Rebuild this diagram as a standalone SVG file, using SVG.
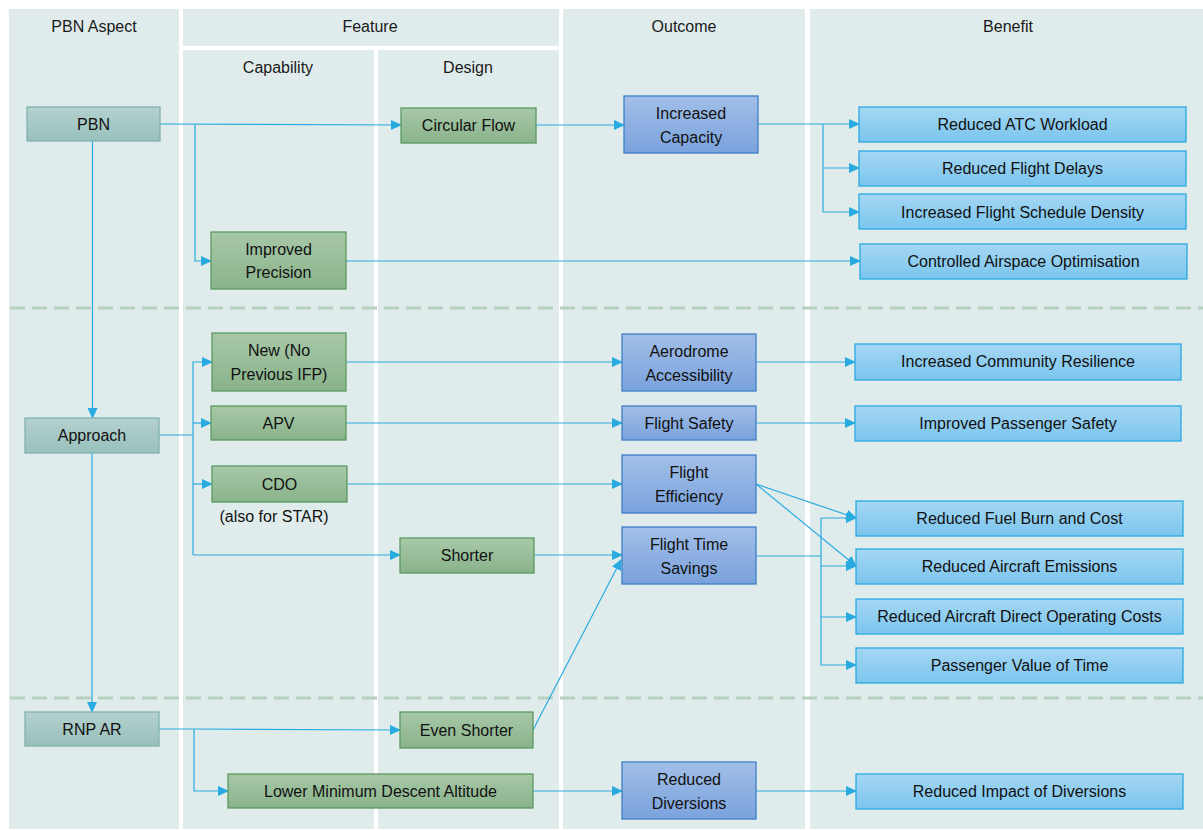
<svg xmlns="http://www.w3.org/2000/svg" width="1203" height="830" viewBox="0 0 1203 830">
<defs>
<linearGradient id="gTeal" x1="0" y1="0" x2="0" y2="1"><stop offset="0" stop-color="#B4D1CE"/><stop offset="1" stop-color="#98C0BC"/></linearGradient>
<linearGradient id="gGreen" x1="0" y1="0" x2="0" y2="1"><stop offset="0" stop-color="#A8C8A8"/><stop offset="1" stop-color="#89B38A"/></linearGradient>
<linearGradient id="gBlue" x1="0" y1="0" x2="0" y2="1"><stop offset="0" stop-color="#A2BFE8"/><stop offset="1" stop-color="#7AA2DC"/></linearGradient>
<linearGradient id="gSky" x1="0" y1="0" x2="0" y2="1"><stop offset="0" stop-color="#A5D7F3"/><stop offset="1" stop-color="#7BC5EE"/></linearGradient>
<marker id="arr" markerUnits="userSpaceOnUse" markerWidth="11" markerHeight="10" refX="10" refY="5" orient="auto"><path d="M0,0 L11,5 L0,10 z" fill="#29ABE2"/></marker>
<style>
.panel{fill:#E0ECEB}
.dash{stroke:#B6CFBF;stroke-width:3;stroke-dasharray:15 7;fill:none}
.hdr{font-family:"Liberation Sans",Arial,sans-serif;font-size:16px;fill:#1a1a1a;text-anchor:middle}
.lbl{font-family:"Liberation Sans",Arial,sans-serif;font-size:16px;fill:#111;text-anchor:middle}
.teal{fill:url(#gTeal);stroke:#80B2AD;stroke-width:1.3}
.green{fill:url(#gGreen);stroke:#5A9A62;stroke-width:1.3}
.blue{fill:url(#gBlue);stroke:#3E7FC6;stroke-width:1.3}
.sky{fill:url(#gSky);stroke:#2AAAE2;stroke-width:1.3}
.c{fill:none;stroke:#29ABE2;stroke-width:1.2}
.a{marker-end:url(#arr)}
</style>
</defs>
<rect width="1203" height="830" fill="#FFFFFF"/>
<g id="panels">
<rect class="panel" x="9" y="9" width="170" height="820"/>
<rect class="panel" x="183" y="9" width="376" height="37"/>
<rect class="panel" x="183" y="50" width="191" height="779"/>
<rect class="panel" x="378" y="50" width="181" height="779"/>
<rect class="panel" x="563" y="9" width="242" height="820"/>
<rect class="panel" x="810" y="9" width="393" height="820"/>
<line class="dash" x1="10" y1="308" x2="1203" y2="308"/>
<line class="dash" x1="10" y1="698" x2="1203" y2="698"/>
<text class="hdr" x="94" y="32">PBN Aspect</text>
<text class="hdr" x="370" y="32">Feature</text>
<text class="hdr" x="278" y="73">Capability</text>
<text class="hdr" x="468" y="73">Design</text>
<text class="hdr" x="684" y="32">Outcome</text>
<text class="hdr" x="1008" y="32">Benefit</text>
</g>
<g id="connectors">
<path class="c a" d="M160,124 L401,125"/>
<path class="c a" d="M195,124 V261 H211"/>
<path class="c a" d="M92.5,141 V418"/>
<path class="c a" d="M92,453 V712"/>
<path class="c a" d="M536,125 H624"/>
<path class="c a" d="M758,124 H859"/>
<path class="c a" d="M823,124 V212 H859"/>
<path class="c a" d="M823,168 H859"/>
<path class="c a" d="M346,261 H860"/>
<path class="c" d="M159,435 H193"/>
<path class="c a" d="M193,555 V362 H212"/>
<path class="c a" d="M193,423 H211"/>
<path class="c a" d="M193,484 H212"/>
<path class="c a" d="M193,555 H400"/>
<path class="c a" d="M346,362 H622"/>
<path class="c a" d="M346,423 H622"/>
<path class="c a" d="M347,484 H622"/>
<path class="c a" d="M534,555 H622"/>
<path class="c a" d="M533,730 L621,560"/>
<path class="c a" d="M756,362 H855"/>
<path class="c a" d="M756,423 H855"/>
<path class="c a" d="M756,484 L856,518"/>
<path class="c a" d="M756,484 L856,566"/>
<path class="c" d="M756,556 H821"/>
<path class="c a" d="M821,518 H856"/>
<path class="c a" d="M821,518 V566 H856"/>
<path class="c a" d="M821,566 V617 H856"/>
<path class="c a" d="M821,617 V665 H856"/>
<path class="c a" d="M159,729 H194 L400,730"/>
<path class="c a" d="M194,729 V791 H228"/>
<path class="c a" d="M533,791 H622"/>
<path class="c a" d="M756,791 H856"/>
</g>
<g id="n-pbn"><rect class="teal" x="27" y="107" width="133" height="34"/><text class="lbl" x="93.5" y="130">PBN</text></g>
<g id="n-approach"><rect class="teal" x="25" y="418" width="134" height="35"/><text class="lbl" x="92" y="441">Approach</text></g>
<g id="n-rnpar"><rect class="teal" x="25" y="712" width="134" height="34"/><text class="lbl" x="92" y="735">RNP AR</text></g>
<g id="n-circular"><rect class="green" x="401" y="108" width="135" height="35"/><text class="lbl" x="468.5" y="131">Circular Flow</text></g>
<g id="n-precision"><rect class="green" x="211" y="232" width="135" height="57"/><text class="lbl" x="278.5" y="255">Improved</text><text class="lbl" x="278.5" y="278">Precision</text></g>
<g id="n-new"><rect class="green" x="212" y="333" width="134" height="58"/><text class="lbl" x="279" y="356">New (No</text><text class="lbl" x="279" y="380">Previous IFP)</text></g>
<g id="n-apv"><rect class="green" x="211" y="406" width="135" height="34"/><text class="lbl" x="278.5" y="429">APV</text></g>
<g id="n-cdo"><rect class="green" x="212" y="466" width="135" height="36"/><text class="lbl" x="279.5" y="490">CDO</text><text class="lbl" x="274" y="522">(also for STAR)</text></g>
<g id="n-shorter"><rect class="green" x="400" y="538" width="134" height="35"/><text class="lbl" x="467" y="561">Shorter</text></g>
<g id="n-evenshorter"><rect class="green" x="400" y="712" width="133" height="36"/><text class="lbl" x="466.5" y="736">Even Shorter</text></g>
<g id="n-lmda"><rect class="green" x="228" y="774" width="305" height="34"/><text class="lbl" x="380.5" y="797">Lower Minimum Descent Altitude</text></g>
<g id="n-capacity"><rect class="blue" x="624" y="96" width="134" height="57"/><text class="lbl" x="691" y="119">Increased</text><text class="lbl" x="691" y="143">Capacity</text></g>
<g id="n-aerodrome"><rect class="blue" x="622" y="334" width="134" height="57"/><text class="lbl" x="689" y="357">Aerodrome</text><text class="lbl" x="689" y="381">Accessibility</text></g>
<g id="n-safety"><rect class="blue" x="622" y="406" width="134" height="34"/><text class="lbl" x="689" y="429">Flight Safety</text></g>
<g id="n-efficiency"><rect class="blue" x="622" y="455" width="134" height="58"/><text class="lbl" x="689" y="478">Flight</text><text class="lbl" x="689" y="502">Efficiency</text></g>
<g id="n-timesavings"><rect class="blue" x="622" y="527" width="134" height="57"/><text class="lbl" x="689" y="550">Flight Time</text><text class="lbl" x="689" y="574">Savings</text></g>
<g id="n-diversions"><rect class="blue" x="622" y="762" width="134" height="57"/><text class="lbl" x="689" y="785">Reduced</text><text class="lbl" x="689" y="809">Diversions</text></g>
<g id="n-atc"><rect class="sky" x="859" y="107" width="327" height="35"/><text class="lbl" x="1022.5" y="130">Reduced ATC Workload</text></g>
<g id="n-delays"><rect class="sky" x="859" y="151" width="327" height="35"/><text class="lbl" x="1022.5" y="174">Reduced Flight Delays</text></g>
<g id="n-density"><rect class="sky" x="859" y="194" width="327" height="35"/><text class="lbl" x="1022.5" y="218">Increased Flight Schedule Density</text></g>
<g id="n-airspace"><rect class="sky" x="860" y="244" width="327" height="35"/><text class="lbl" x="1023.5" y="267">Controlled Airspace Optimisation</text></g>
<g id="n-community"><rect class="sky" x="855" y="344" width="326" height="36"/><text class="lbl" x="1018" y="367">Increased Community Resilience</text></g>
<g id="n-passafety"><rect class="sky" x="855" y="406" width="326" height="35"/><text class="lbl" x="1018" y="429">Improved Passenger Safety</text></g>
<g id="n-fuel"><rect class="sky" x="856" y="501" width="327" height="35"/><text class="lbl" x="1019.5" y="524">Reduced Fuel Burn and Cost</text></g>
<g id="n-emissions"><rect class="sky" x="856" y="549" width="327" height="35"/><text class="lbl" x="1019.5" y="572">Reduced Aircraft Emissions</text></g>
<g id="n-doc"><rect class="sky" x="856" y="599" width="327" height="35"/><text class="lbl" x="1019.5" y="622">Reduced Aircraft Direct Operating Costs</text></g>
<g id="n-pvt"><rect class="sky" x="856" y="648" width="327" height="35"/><text class="lbl" x="1019.5" y="671">Passenger Value of Time</text></g>
<g id="n-impact"><rect class="sky" x="856" y="774" width="327" height="35"/><text class="lbl" x="1019.5" y="797">Reduced Impact of Diversions</text></g>
</svg>
